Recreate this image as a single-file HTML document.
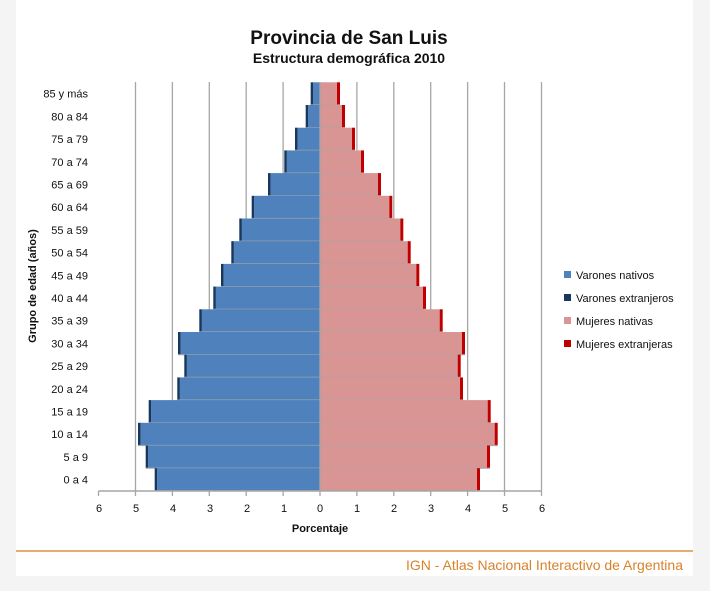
<!DOCTYPE html>
<html><head><meta charset="utf-8"><style>
body{margin:0;background:#f4f4f4;}
svg{display:block;font-family:"Liberation Sans",sans-serif;}
</style></head><body>
<svg width="710" height="591" viewBox="0 0 710 591" xmlns="http://www.w3.org/2000/svg">
<rect x="0" y="0" width="710" height="591" fill="#f4f4f4"/>
<rect x="16" y="0" width="677" height="576" fill="#fff"/>
<text x="349" y="44" text-anchor="middle" font-size="19" font-weight="bold" fill="#111">Provincia de San Luis</text>
<text x="349" y="63" text-anchor="middle" font-size="14" font-weight="bold" fill="#111">Estructura demográfica 2010</text>
<g stroke="#a6a6a6" stroke-width="1.3">
<line x1="135.5" y1="82" x2="135.5" y2="491"/><line x1="172.4" y1="82" x2="172.4" y2="491"/>
<line x1="209.3" y1="82" x2="209.3" y2="491"/><line x1="246.2" y1="82" x2="246.2" y2="491"/>
<line x1="283.1" y1="82" x2="283.1" y2="491"/><line x1="356.9" y1="82" x2="356.9" y2="491"/>
<line x1="393.8" y1="82" x2="393.8" y2="491"/><line x1="430.7" y1="82" x2="430.7" y2="491"/>
<line x1="467.6" y1="82" x2="467.6" y2="491"/><line x1="504.5" y1="82" x2="504.5" y2="491"/>
<line x1="541.5" y1="82" x2="541.5" y2="491"/>
</g>
<g id="bars"></g>
<line x1="320" y1="82" x2="320" y2="491" stroke="#a6a6a6" stroke-width="1.3"/>
<line x1="98.5" y1="491" x2="541.5" y2="491" stroke="#a6a6a6" stroke-width="1.5"/>
<g stroke="#a6a6a6" stroke-width="1.3">
<line x1="98.5" y1="491" x2="98.5" y2="496"/><line x1="135.5" y1="491" x2="135.5" y2="496"/><line x1="172.4" y1="491" x2="172.4" y2="496"/><line x1="209.3" y1="491" x2="209.3" y2="496"/><line x1="246.2" y1="491" x2="246.2" y2="496"/><line x1="283.1" y1="491" x2="283.1" y2="496"/><line x1="320" y1="491" x2="320" y2="496"/><line x1="356.9" y1="491" x2="356.9" y2="496"/><line x1="393.8" y1="491" x2="393.8" y2="496"/><line x1="430.7" y1="491" x2="430.7" y2="496"/><line x1="467.6" y1="491" x2="467.6" y2="496"/><line x1="504.5" y1="491" x2="504.5" y2="496"/><line x1="541.5" y1="491" x2="541.5" y2="496"/>
</g>
<g font-size="11" fill="#111" text-anchor="middle">
<text x="99" y="512">6</text><text x="136" y="512">5</text><text x="173" y="512">4</text><text x="210" y="512">3</text><text x="247" y="512">2</text><text x="284" y="512">1</text><text x="320" y="512">0</text><text x="357" y="512">1</text><text x="394" y="512">2</text><text x="431" y="512">3</text><text x="468" y="512">4</text><text x="505" y="512">5</text><text x="542" y="512">6</text>
</g>
<text x="320" y="532" text-anchor="middle" font-size="11" font-weight="bold" fill="#111">Porcentaje</text>
<text transform="translate(36,286) rotate(-90)" text-anchor="middle" font-size="11" font-weight="bold" fill="#111">Grupo de edad (años)</text>
<g font-size="11" fill="#111" text-anchor="end" id="labels"></g>
<g font-size="11" fill="#111">
<rect x="564" y="271" width="7" height="7" fill="#4f81bd"/><text x="576" y="279">Varones nativos</text>
<rect x="564" y="294" width="7" height="7" fill="#17375e"/><text x="576" y="302">Varones extranjeros</text>
<rect x="564" y="317" width="7" height="7" fill="#d99594"/><text x="576" y="325">Mujeres nativas</text>
<rect x="564" y="340" width="7" height="7" fill="#c00000"/><text x="576" y="348">Mujeres extranjeras</text>
</g>
<line x1="16" y1="551" x2="693" y2="551" stroke="#e0913f" stroke-width="1.5"/>
<text x="683" y="570" text-anchor="end" font-size="14" fill="#d9822b">IGN - Atlas Nacional Interactivo de Argentina</text>
<script>
var d=[["85 y más",310.7,340],["80 a 84",305.7,345],["75 a 79",295,355],["70 a 74",284.3,364],["65 a 69",268,381],["60 a 64",251.7,392.3],["55 a 59",239.3,403.3],["50 a 54",231.3,410.7],["45 a 49",221,419.3],["40 a 44",213.3,426],["35 a 39",199.3,442.7],["30 a 34",178,465],["25 a 29",184.3,460.7],["20 a 24",177.3,463],["15 a 19",148.7,490.7],["10 a 14",138,497.7],["5 a 9",145.7,490],["0 a 4",154.7,480]];
var ns="http://www.w3.org/2000/svg",b=document.getElementById("bars"),lb=document.getElementById("labels");
function r(x,y,w,h,f){var e=document.createElementNS(ns,"rect");e.setAttribute("x",x);e.setAttribute("y",y);e.setAttribute("width",w);e.setAttribute("height",h);e.setAttribute("fill",f);b.appendChild(e);}
d.forEach(function(v,i){var y=82.3+i*22.7,h=22.7;
r(v[1],y,2.6,h,"#17375e");r(v[1]+2.6,y,320-v[1]-2.6,h,"#4f81bd");
r(320,y,v[2]-3-320,h,"#d99594");r(v[2]-3,y,3,h,"#c00000");
var l=document.createElementNS(ns,"line");l.setAttribute("x1",v[1]);l.setAttribute("x2",v[2]);l.setAttribute("y1",y+h);l.setAttribute("y2",y+h);l.setAttribute("stroke","#a6a6a6");l.setAttribute("stroke-width","1.2");b.appendChild(l);
var t=document.createElementNS(ns,"text");t.setAttribute("x",88);t.setAttribute("y",y+h/2+4);t.textContent=v[0];lb.appendChild(t);});
</script>
</svg>
</body></html>
